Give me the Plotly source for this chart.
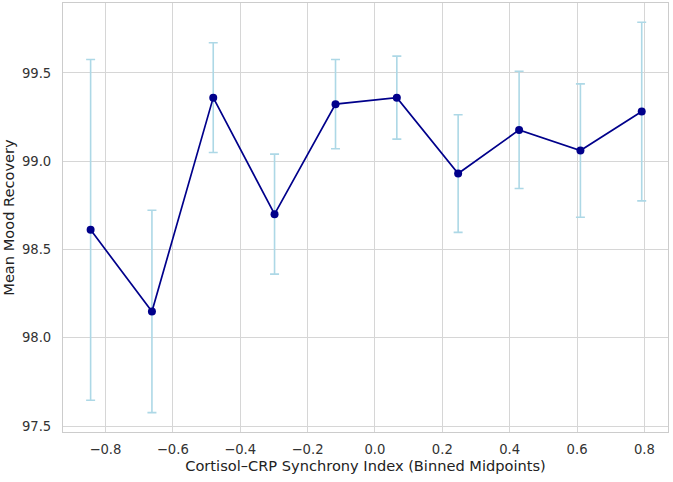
import plotly.graph_objects as go

bin_midpoints = [-0.844, -0.662, -0.480, -0.298, -0.117, 0.065, 0.247, 0.428, 0.610, 0.792]
mean_recovery = [98.611, 98.149, 99.360, 98.700, 99.323, 99.360, 98.930, 99.177, 99.060, 99.281]
error_values = [0.965, 0.573, 0.311, 0.340, 0.253, 0.235, 0.333, 0.332, 0.378, 0.506]

x_ticks = [-0.8, -0.6, -0.4, -0.2, 0.0, 0.2, 0.4, 0.6, 0.8]
y_ticks = [97.5, 98.0, 98.5, 99.0, 99.5]

fig = go.Figure()
fig.add_trace(go.Scatter(
    x=bin_midpoints, y=mean_recovery,
    mode="lines+markers",
    line=dict(color="#00008B", width=1.7),
    marker=dict(color="#00008B", size=8),
    error_y=dict(type="data", array=error_values, visible=True,
                 color="#ADD8E6", thickness=1.6, width=4.5),
    showlegend=False,
))

font = "DejaVu Sans, sans-serif"
fig.update_layout(
    width=673, height=482,
    margin=dict(l=63, r=5, t=3, b=50),
    paper_bgcolor="white", plot_bgcolor="white",
    font=dict(family=font, size=13.2, color="#333333"),
)
fig.update_xaxes(
    range=[-0.926, 0.87],
    tickvals=x_ticks, tickformat=".1f",
    showgrid=True, gridcolor="#d6d6d6", gridwidth=1.2,
    showline=True, linecolor="#cccccc", linewidth=1.2, mirror=True,
    zeroline=False, ticks="", ticklabelstandoff=5,
    title=dict(text="Cortisol–CRP Synchrony Index (Binned Midpoints)", font=dict(size=14.6, color="#222222"), standoff=3),
)
fig.update_yaxes(
    range=[97.466, 99.896],
    tickvals=y_ticks, tickformat=".1f",
    showgrid=True, gridcolor="#d6d6d6", gridwidth=1.2,
    showline=True, linecolor="#cccccc", linewidth=1.2, mirror=True,
    zeroline=False, ticks="", ticklabelstandoff=8,
    title=dict(text="Mean Mood Recovery", font=dict(size=14.6, color="#222222"), standoff=3),
)

fig.write_html("out.html")
